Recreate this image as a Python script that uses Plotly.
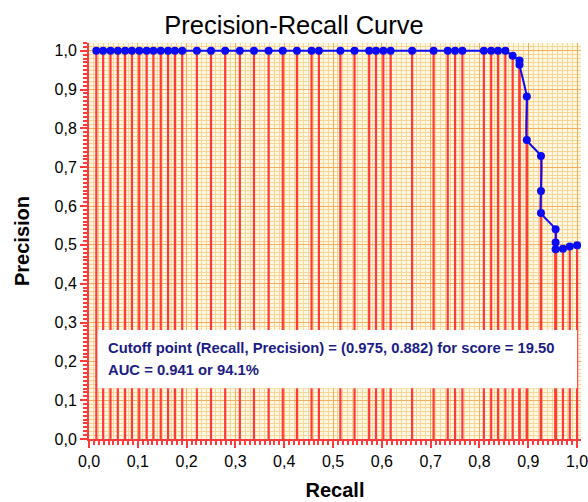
import plotly.graph_objects as go

# Data
recall = [0.015, 0.029, 0.044, 0.059, 0.074, 0.088, 0.103, 0.118, 0.132, 0.147,
          0.162, 0.176, 0.191, 0.221, 0.250, 0.279, 0.309, 0.338, 0.368, 0.397,
          0.426, 0.456, 0.471, 0.515, 0.544, 0.574, 0.588, 0.603, 0.618, 0.662,
          0.706, 0.735, 0.750, 0.765, 0.809, 0.824, 0.838, 0.853, 0.868, 0.882,
          0.882, 0.897, 0.897, 0.926, 0.926, 0.926, 0.956, 0.956, 0.956, 0.971,
          0.985, 1.000]
precision = [1.0] * 38 + [0.987, 0.975, 0.964, 0.882, 0.770, 0.729, 0.639, 0.582,
                          0.540, 0.506, 0.489, 0.490, 0.496, 0.499]

tick_vals = [0.0, 0.1, 0.2, 0.3, 0.4, 0.5, 0.6, 0.7, 0.8, 0.9, 1.0]
tick_text = ["0,0", "0,1", "0,2", "0,3", "0,4", "0,5", "0,6", "0,7", "0,8", "0,9", "1,0"]

title_text = "Precision-Recall Curve"
x_title = "Recall"
y_title = "Precision"
note_lines = ["Cutoff point (Recall, Precision) = (0.975, 0.882) for score = 19.50",
              "AUC = 0.941 or 94.1%"]

FONT = "Liberation Sans, Arial, sans-serif"
RED = "#FF3A3A"
BLUE = "#0A0AF5"

# stems from each point down to zero
stem_x, stem_y = [], []
for xv, yv in zip(recall, precision):
    stem_x += [xv, xv, None]
    stem_y += [0, yv, None]

fig = go.Figure()
fig.add_trace(go.Scatter(x=stem_x, y=stem_y, mode="lines",
                         line=dict(color=RED, width=2.2), hoverinfo="skip",
                         showlegend=False))
fig.add_trace(go.Scatter(x=recall, y=precision, mode="lines+markers",
                         line=dict(color=BLUE, width=2, shape="spline", smoothing=0.4),
                         marker=dict(color=BLUE, size=8),
                         showlegend=False))

axis_common = dict(
    showline=True, linecolor=RED, linewidth=2,
    ticks="outside", ticklen=7, tickwidth=2, tickcolor=RED,
    tickvals=tick_vals, ticktext=tick_text,
    tickfont=dict(family=FONT, size=16, color="black"),
    ticklabeloverflow="allow",
    showgrid=True, gridcolor="#F6AE5A", gridwidth=1,
    zeroline=False, automargin=False,
    minor=dict(dtick=0.01, tick0=0, ticks="outside", ticklen=4, tickwidth=1.5,
               tickcolor=RED, showgrid=True, gridcolor="#F9D598", gridwidth=1),
)

fig.update_xaxes(range=[0, 1.008], **axis_common,
                 title=dict(text="<b>" + x_title + "</b>",
                            font=dict(family=FONT, size=20, color="black"),
                            standoff=14))
fig.update_yaxes(range=[0, 1.02], **axis_common,
                 title=dict(text="<b>" + y_title + "</b>",
                            font=dict(family=FONT, size=20, color="black"),
                            standoff=20))

# white note box
fig.add_shape(type="rect", xref="x", yref="y", x0=0.018, x1=1.0, y0=0.131, y1=0.281,
              fillcolor="white", line=dict(width=0), layer="above")
fig.add_annotation(xref="x", yref="y", x=0.034, y=0.235, xanchor="left", yanchor="middle",
                   text="<b>" + note_lines[0] + "</b>", showarrow=False,
                   font=dict(family=FONT, size=14.8, color="#1C1C86"))
fig.add_annotation(xref="x", yref="y", x=0.034, y=0.178, xanchor="left", yanchor="middle",
                   text="<b>" + note_lines[1] + "</b>", showarrow=False,
                   font=dict(family=FONT, size=14.8, color="#1C1C86"))

fig.update_layout(
    width=588, height=502,
    margin=dict(l=89, r=7, t=43, b=63, autoexpand=False),
    paper_bgcolor="white", plot_bgcolor="#FFF8E4",
    separators=", ",
    title=dict(text=title_text, x=0.5, xanchor="center", y=0.95, yanchor="middle",
               font=dict(family=FONT, size=25.5, color="black"),
               automargin=False),
    showlegend=False,
)

fig.write_html("out.html",
               config={"displayModeBar": False},
               post_script="document.body.style.margin='0';document.body.style.overflow='hidden';")
